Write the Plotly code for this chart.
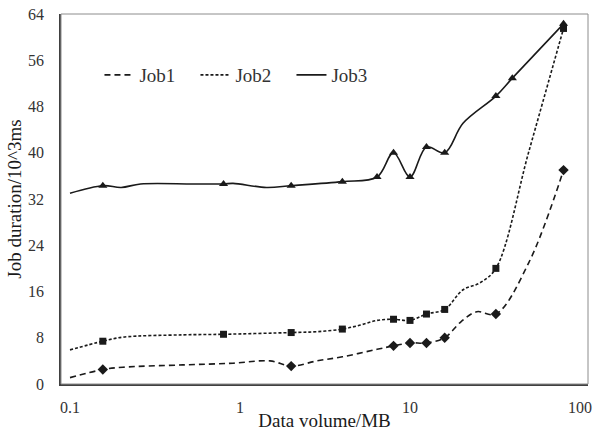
import plotly.graph_objects as go
import math

# ---- data ----
job1_x = [0.1, 0.156, 0.205, 0.46, 0.91, 1.5, 2, 2.84, 4, 6.4, 8, 10, 12.5, 16, 20, 24.7, 32, 50, 80]
job1_y = [1.1, 2.5, 2.9, 3.3, 3.6, 4.0, 3.1, 4.0, 4.7, 6.0, 6.6, 7.1, 7.1, 8.0, 10.8, 12.5, 12.1, 21.0, 37.0]
job1_mark = [0, 1, 0, 0, 0, 0, 1, 0, 0, 0, 1, 1, 1, 1, 0, 0, 1, 0, 1]

job2_x = [0.1, 0.156, 0.205, 0.46, 0.8, 2, 2.84, 4, 5.1, 6.4, 8, 10, 12.5, 16, 20.5, 25.8, 32, 50, 80]
job2_y = [5.9, 7.4, 8.1, 8.5, 8.6, 8.9, 9.05, 9.5, 10.2, 11.0, 11.2, 11.0, 12.1, 12.9, 16.3, 17.5, 20.0, 40.2, 61.5]
job2_mark = [0, 1, 0, 0, 1, 1, 0, 1, 0, 0, 1, 1, 1, 1, 0, 0, 1, 0, 1]

job3_x = [0.1, 0.156, 0.2, 0.26, 0.53, 0.8, 0.91, 1.43, 2, 4, 6.4, 8, 10, 12.5, 16, 20.5, 32, 40, 80]
job3_y = [33.0, 34.3, 34.0, 34.6, 34.6, 34.6, 34.7, 34.0, 34.3, 35.0, 35.8, 40.0, 35.8, 41.0, 40.0, 45.1, 49.8, 52.9, 62.3]
job3_mark = [0, 1, 0, 0, 0, 1, 0, 0, 1, 1, 1, 1, 1, 1, 1, 0, 1, 1, 1]

series_names = ["Job1", "Job2", "Job3"]
x_ticks = [0.1, 1, 10, 100]
x_ticktext = ["0.1", "1", "10", "100"]
y_ticks = [0, 8, 16, 24, 32, 40, 48, 56, 64]

FONT = "Liberation Serif, Times New Roman, serif"
INK = "#1a1a1a"

styles = [
    dict(dash="6px,4px", symbol="diamond", size=8),
    dict(dash="3px,2px", symbol="square", size=7),
    dict(dash="solid", symbol="triangle-up", size=8),
]

fig = go.Figure()
data = [(job1_x, job1_y, job1_mark), (job2_x, job2_y, job2_mark), (job3_x, job3_y, job3_mark)]
for name, (xs, ys, mk), st in zip(series_names, data, styles):
    fig.add_trace(go.Scatter(
        x=xs, y=ys, mode="lines", name=name,
        line=dict(color=INK, width=1.6, dash=st["dash"], shape="spline", smoothing=1.0),
        hoverinfo="skip",
    ))
for name, (xs, ys, mk), st in zip(series_names, data, styles):
    fig.add_trace(go.Scatter(
        x=[x for x, m in zip(xs, mk) if m],
        y=[y for y, m in zip(ys, mk) if m],
        mode="markers", name=name, showlegend=False,
        marker=dict(color=INK, symbol=st["symbol"], size=st["size"], line=dict(width=0)),
    ))

fig.update_layout(
    width=594, height=431,
    margin=dict(l=61, r=6, t=14, b=47, autoexpand=False),
    paper_bgcolor="white", plot_bgcolor="white",
    font=dict(family=FONT, color="#333333", size=16),
    showlegend=True,
    legend=dict(
        orientation="h", x=0.073, y=0.835, xanchor="left", yanchor="middle",
        font=dict(family=FONT, size=19, color="#333333"),
        bgcolor="rgba(0,0,0,0)", entrywidth=51, entrywidthmode="pixels",
    ),
    shapes=[dict(type="rect", xref="paper", yref="paper", x0=0, y0=0, x1=1, y1=1,
                 line=dict(color="#8c8c8c", width=1), layer="above")],
)
fig.update_xaxes(
    type="log", range=[math.log10(0.1) - 9 / 170, 2 + 8 / 170], automargin=False,
    tickvals=x_ticks, ticktext=x_ticktext, ticks="", showgrid=False, zeroline=False,
    showline=True, linecolor="#404040", linewidth=1.5, ticklabelstandoff=8,
    tickfont=dict(family=FONT, size=16, color="#333333"),
    title=dict(text="Data volume/MB", font=dict(family=FONT, size=19, color="#1a1a1a"), standoff=0),
)
fig.update_yaxes(
    range=[0, 64], tickvals=y_ticks, ticks="", showgrid=False, zeroline=False, automargin=False,
    showline=True, linecolor="#404040", linewidth=1.5, ticklabelstandoff=12,
    tickfont=dict(family=FONT, size=16, color="#333333"),
    title=dict(text="Job duration/10^3ms", font=dict(family=FONT, size=19, color="#1a1a1a"), standoff=1),
)

fig.write_html(
    "out.html",
    config={"displayModeBar": False},
    post_script="document.body.style.margin='0';document.body.style.overflow='hidden';"
                "document.documentElement.style.overflow='hidden';",
)
